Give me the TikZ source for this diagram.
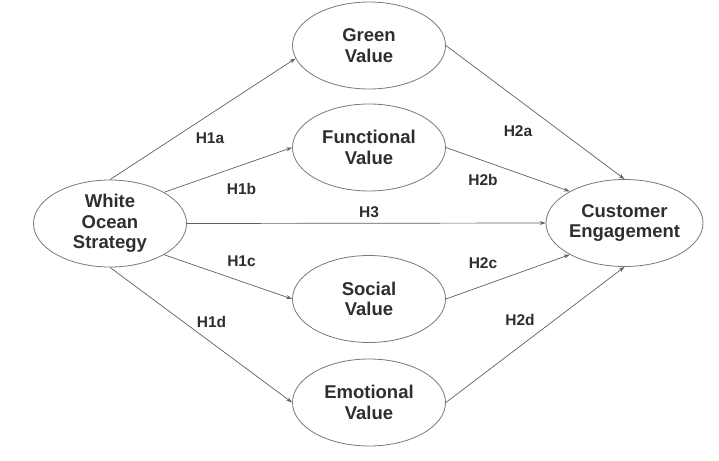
\documentclass[tikz,border=0pt]{standalone}
\usepackage{fontspec}
\setmainfont{Liberation Sans}
\usetikzlibrary{shapes.geometric,arrows.meta}
\definecolor{txt}{RGB}{45,45,50}
\definecolor{edge}{RGB}{120,120,120}
\definecolor{conn}{RGB}{95,95,95}
\tikzset{
  construct/.style={ellipse, draw=edge, line width=0.8pt, minimum width=153pt, minimum height=87pt,
    inner sep=0pt, align=center, text=txt, font=\fontsize{18.5}{20.5}\selectfont\bfseries},
  link/.style={draw=conn, line width=0.7pt, -{Stealth[length=6pt,width=4pt]}},
  hyp/.style={text=txt, font=\fontsize{15.5}{17}\selectfont\bfseries, inner sep=0pt}
}
\begin{document}
\begin{tikzpicture}[x=1pt,y=-1pt]
\useasboundingbox (0,0) rectangle (719,460);
\node[construct] (wos) at (110,223.5) {White\\Ocean\\Strategy};
\node[construct] (green) at (369,45.5) {Green\\Value};
\node[construct] (func) at (369,147.5) {Functional\\Value};
\node[construct] (soc) at (369,299) {Social\\Value};
\node[construct] (emo) at (369,402.5) {Emotional\\Value};
\node[construct] (ce) at (624.5,223) {Customer\\Engagement};
\draw[link] (wos.north) -- (green.190);
\draw[link] (wos.30) -- (func.west);
\draw[link] (wos.east) -- (ce.west);
\draw[link] (wos.-30) -- (soc.west);
\draw[link] (wos.south) -- (emo.west);
\draw[link] (green.east) -- (ce.north);
\draw[link] (func.east) -- (ce.150);
\draw[link] (soc.east) -- (ce.210);
\draw[link] (emo.east) -- (ce.south);
\node[hyp] (h1a) at (210,138) {H1a};
\node[hyp] (h1b) at (241.5,189) {H1b};
\node[hyp] (h3) at (369,212) {H3};
\node[hyp] (h1c) at (241.5,261) {H1c};
\node[hyp] (h1d) at (211.5,322) {H1d};
\node[hyp] (h2a) at (518,131) {H2a};
\node[hyp] (h2b) at (483,180) {H2b};
\node[hyp] (h2c) at (483,263) {H2c};
\node[hyp] (h2d) at (520,320) {H2d};
\end{tikzpicture}
\end{document}
